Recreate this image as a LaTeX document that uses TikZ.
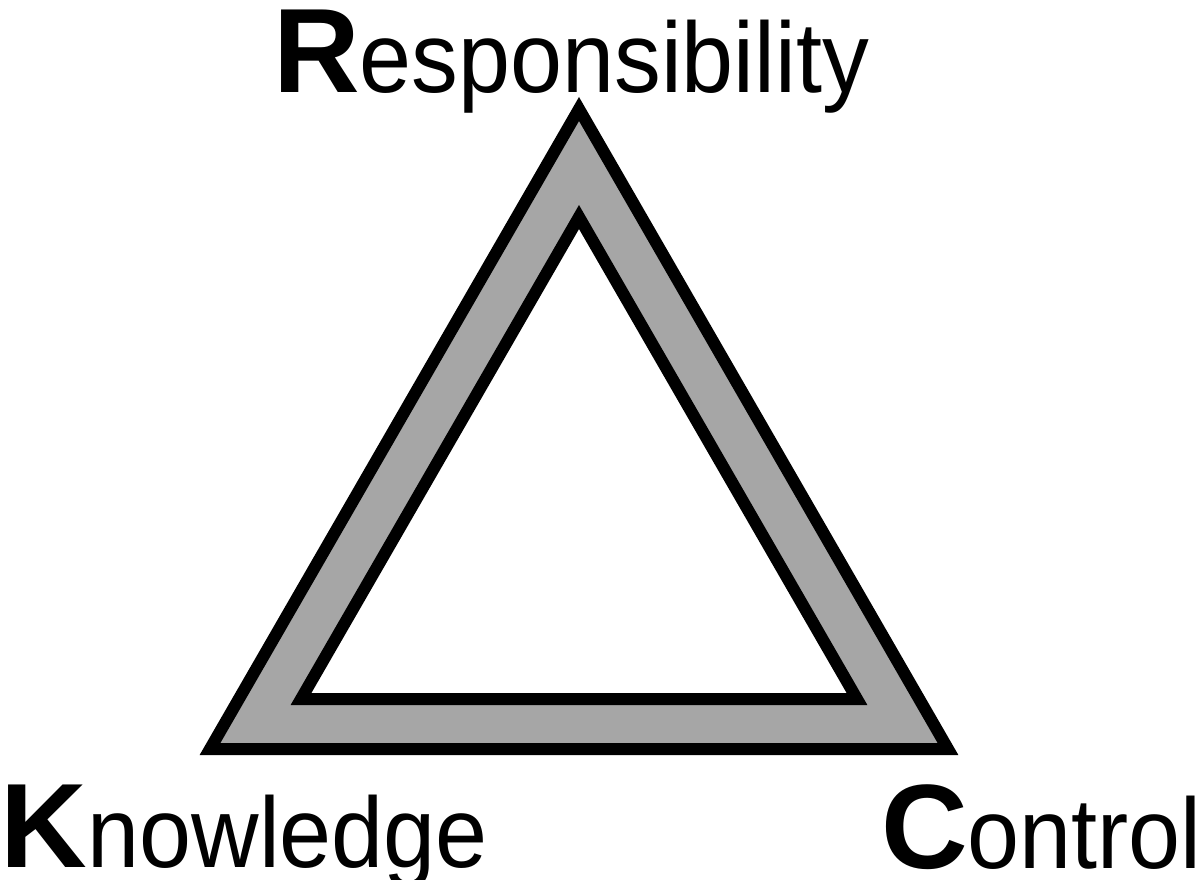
\documentclass[tikz,border=0pt]{standalone}
\usepackage{fontspec}
\setmainfont{Liberation Sans}
\usepackage{xcolor}
\usetikzlibrary{positioning}
\definecolor{bandgray}{HTML}{A6A6A6}

\newcommand{\triword}[2]{{\fontsize{120}{120}\selectfont\bfseries #1}\scalebox{0.935}[1]{\fontsize{100}{100}\selectfont #2}}

\begin{document}
\begin{tikzpicture}[x=1pt,y=-1pt,
      line width=12pt,line join=miter,
      band/.style={draw=black,fill=bandgray},
      hole/.style={draw=black,fill=white},
      word node/.style={inner sep=0,outer sep=0,anchor=base west}]

    \useasboundingbox (0,0) rectangle (1204,879);

    % outer corners
    \coordinate (top) at (579,109);
    \coordinate (left) at (210,749);
    \coordinate (right) at (948,749);
    % inner corners
    \coordinate (itop) at (579,217);
    \coordinate (ileft) at (301,699);
    \coordinate (iright) at (857,699);

    \path[band] (top) -- (right) -- (left) -- cycle;
    \path[hole] (itop) -- (iright) -- (ileft) -- cycle;

    \node[word node] (resp) at (273,92) {\triword{R}{esponsibility}};
    \node[word node] (know) at (1,867) {\triword{K}{nowledge}};
    \node[word node] (ctrl) at (881,868) {\triword{C}{ontrol}};

  \end{tikzpicture}
\end{document}
